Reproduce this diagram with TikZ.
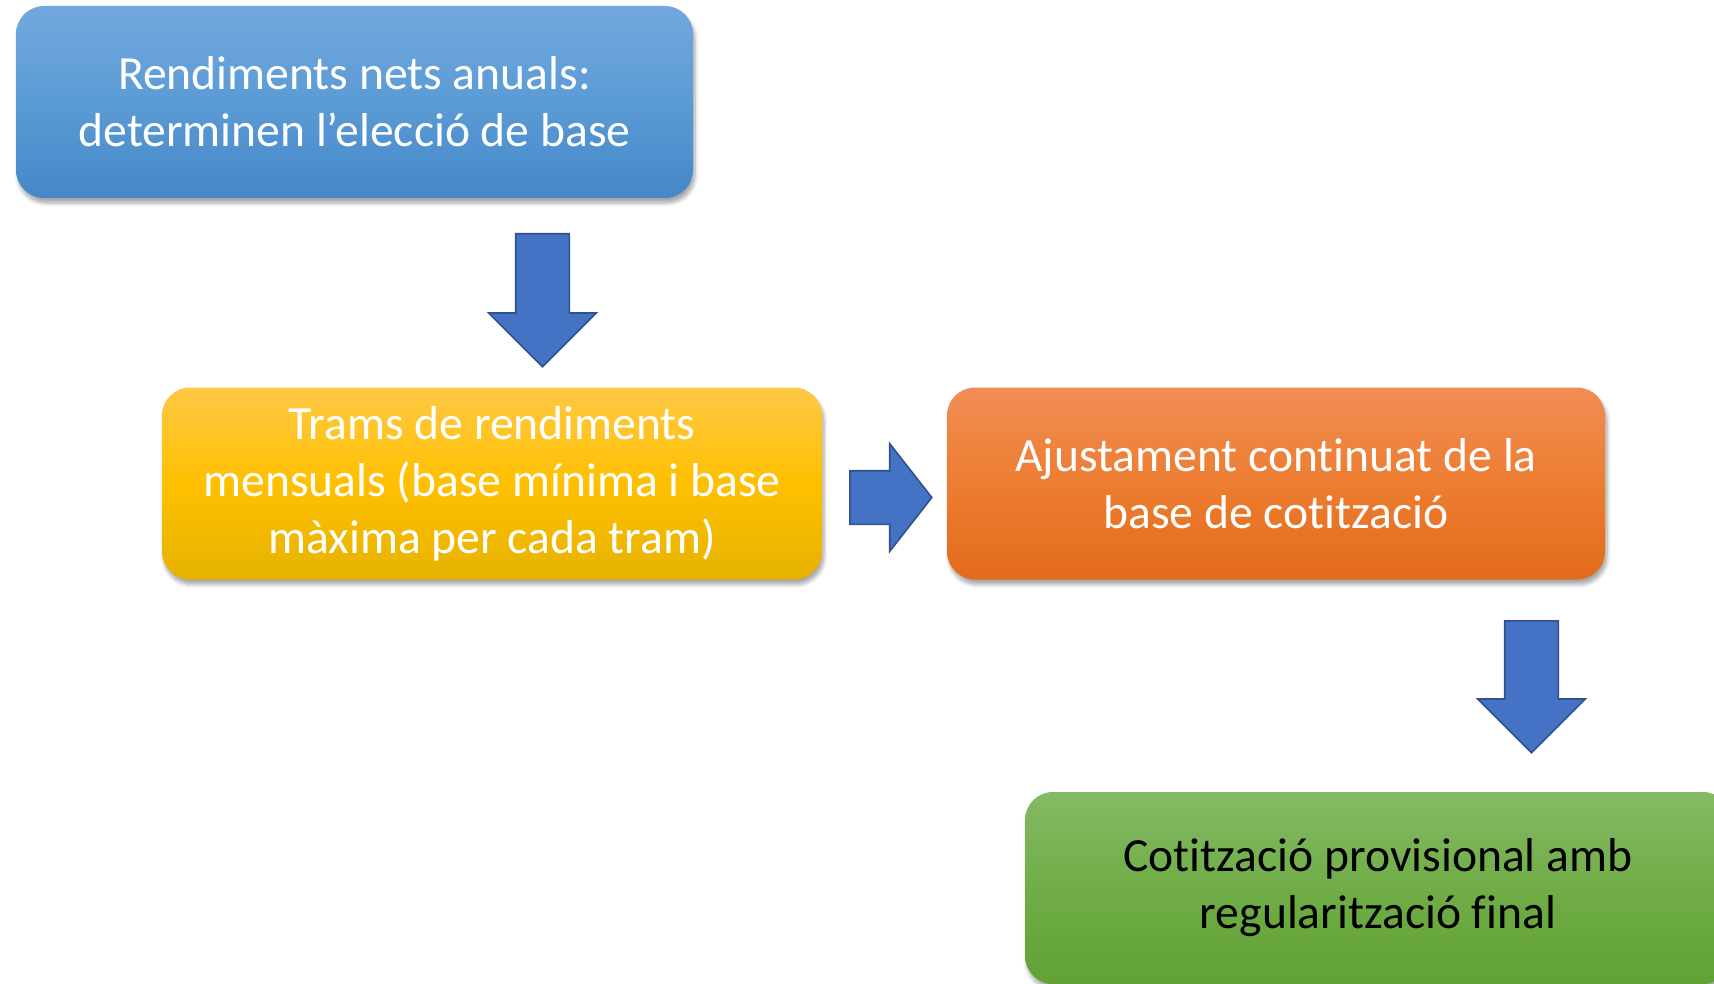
\documentclass[tikz,border=0pt]{standalone}
\usepackage{fontspec}
\setmainfont{Carlito}[Ligatures=NoCommon]
\usetikzlibrary{positioning,shapes.arrows,shadows.blur}
\definecolor{blauA}{HTML}{72A8DE}
\definecolor{blauB}{HTML}{5B9BD5}
\definecolor{blauC}{HTML}{4587C9}
\definecolor{grocA}{HTML}{FFC846}
\definecolor{grocB}{HTML}{FFC000}
\definecolor{grocC}{HTML}{E6B200}
\definecolor{tarA}{HTML}{F18D55}
\definecolor{tarB}{HTML}{ED7D31}
\definecolor{tarC}{HTML}{E26B1B}
\definecolor{verdA}{HTML}{84BA65}
\definecolor{verdB}{HTML}{70AD47}
\definecolor{verdC}{HTML}{61A135}
\definecolor{fletxaF}{HTML}{4472C4}
\definecolor{fletxaV}{HTML}{2F528F}
\begin{document}
\begin{tikzpicture}[x=0.5pt,y=-0.5pt,
    caixa/.style={rounded corners=14pt,minimum height=96pt,align=center,text=white,
        font=\fontsize{23.8}{28.5}\selectfont,
        blur shadow={shadow xshift=1pt,shadow yshift=-2.5pt,shadow blur steps=6,shadow opacity=35}},
    fletxa/.style={single arrow,fill=fletxaF,draw=fletxaV,line width=0.8pt,inner sep=13pt,
        single arrow head extend=13.5pt,single arrow head indent=0pt,anchor=tail}]
    \clip (0,0) rectangle (1714,984);
    % caixes
    \node[caixa,minimum width=338.5pt,top color=blauA,bottom color=blauC,middle color=blauB] (anual) at (354.5,102)
        {Rendiments nets anuals:\\determinen l’elecció de base};
    \node[caixa,minimum width=330pt,top color=grocA,bottom color=grocC,middle color=grocB] (trams) at (492,483.5)
        {Trams de rendiments\\mensuals (base mínima i base\\màxima per cada tram)};
    \node[caixa,minimum width=329pt,top color=tarA,bottom color=tarC,middle color=tarB] (ajust) at (1276,483.5)
        {Ajustament continuat de la\\base de cotització};
    \node[caixa,minimum width=353pt,text=black,top color=verdA,bottom color=verdC,middle color=verdB] (prov) at (1378,888)
        {Cotització provisional amb\\regularització final};
    % fletxes
    \node[fletxa,minimum height=66.5pt,shape border rotate=270] (f1) at (542.5,233) {};
    \node[fletxa,minimum height=41pt,single arrow tip angle=104] (f2) at (849,497.5) {};
    \node[fletxa,minimum height=66pt,shape border rotate=270] (f3) at (1531.5,620) {};
\end{tikzpicture}
\end{document}
